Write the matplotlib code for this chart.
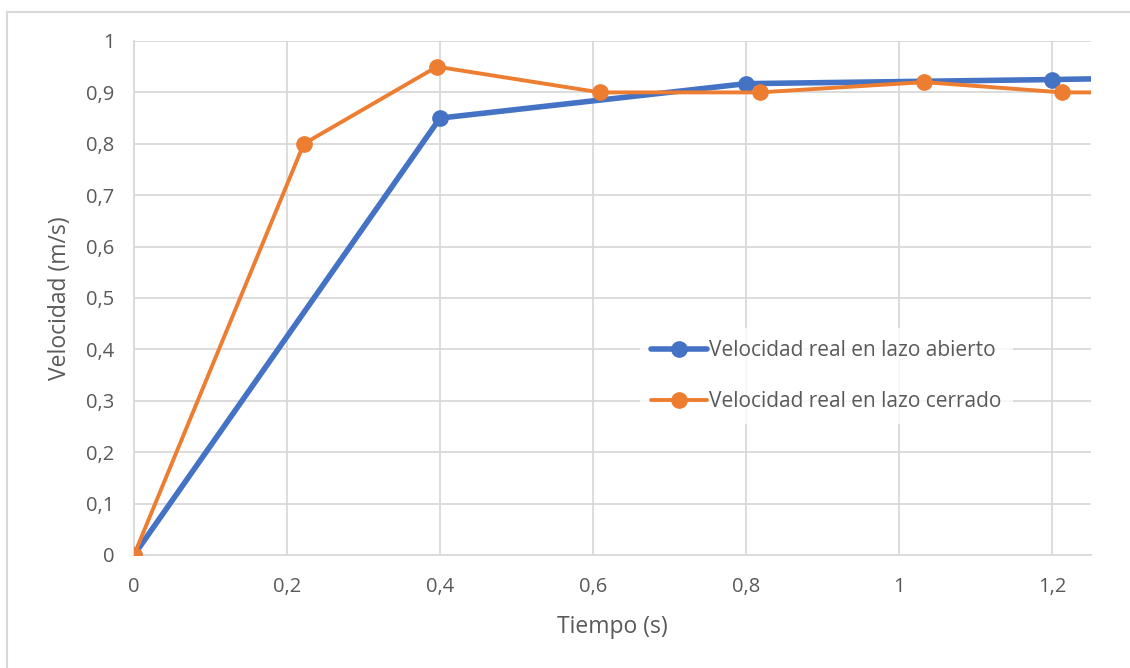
import matplotlib
matplotlib.use("Agg")
import matplotlib.pyplot as plt
from matplotlib.lines import Line2D
from matplotlib.ticker import FuncFormatter

plt.rcParams['font.family'] = ['Open Sans', 'DejaVu Sans']

# Time (s) and measured speed (m/s) for each control mode
t_open = [0, 0.4, 0.8, 1.2, 1.6]
v_open = [0, 0.85, 0.917, 0.925, 0.935]

t_closed = [0, 0.222, 0.396, 0.609, 0.818, 1.033, 1.213, 1.43]
v_closed = [0, 0.80, 0.95, 0.90, 0.90, 0.92, 0.90, 0.90]

label_open = "Velocidad real en lazo abierto"
label_closed = "Velocidad real en lazo cerrado"
x_ticks = [0, 0.2, 0.4, 0.6, 0.8, 1.0, 1.2]
y_ticks = [0, 0.1, 0.2, 0.3, 0.4, 0.5, 0.6, 0.7, 0.8, 0.9, 1.0]

BLUE = "#4472C4"
ORANGE = "#ED7D31"
TEXT = "#595959"
GRID = "#D9D9D9"

W, H = 1130, 668
fig = plt.figure(figsize=(W / 100, H / 100), dpi=100)
ax_l, ax_r, ax_t, ax_b = 134, 1091, 41, 555
ax = fig.add_axes([ax_l / W, (H - ax_b) / H, (ax_r - ax_l) / W, (ax_b - ax_t) / H])
aw, ah = ax_r - ax_l, ax_b - ax_t

ax.plot(t_open, v_open, color=BLUE, lw=4, marker='o', ms=11,
        solid_capstyle='round', zorder=3, label=label_open)
ax.plot(t_closed, v_closed, color=ORANGE, lw=2.8, marker='o', ms=11,
        solid_capstyle='round', zorder=4, label=label_closed)

ax.set_xlim(0, 1.251)
ax.set_ylim(0, 1.0)
ax.set_xticks(x_ticks)
ax.set_yticks(y_ticks)


def comma(v, _):
    s = f"{v:.1f}".rstrip('0').rstrip('.')
    return s.replace('.', ',')


ax.xaxis.set_major_formatter(FuncFormatter(comma))
ax.yaxis.set_major_formatter(FuncFormatter(comma))
ax.tick_params(axis='both', length=0, labelsize=14.5, colors=TEXT)
ax.tick_params(axis='x', pad=16)
ax.tick_params(axis='y', pad=14)

ax.grid(True, color=GRID, lw=1.3)
ax.set_axisbelow(True)
for side in ('top', 'right'):
    ax.spines[side].set_visible(False)
for side in ('left', 'bottom'):
    ax.spines[side].set_color(GRID)
    ax.spines[side].set_linewidth(1.3)

ax.set_xlabel("Tiempo (s)", fontsize=16.5, color=TEXT, va='center')
ax.set_ylabel("Velocidad (m/s)", fontsize=16.5, color=TEXT, va='center')
ax.xaxis.set_label_coords((612 - ax_l) / aw, (ax_b - 627) / ah)
ax.yaxis.set_label_coords((60 - ax_l) / aw, (ax_b - 298) / ah)

handles = [
    Line2D([], [], color=BLUE, lw=4, marker='o', ms=11, solid_capstyle='round'),
    Line2D([], [], color=ORANGE, lw=2.8, marker='o', ms=11, solid_capstyle='round'),
]
leg = ax.legend(handles, [label_open, label_closed], loc='center left',
                bbox_to_anchor=((640 - ax_l) / aw, (ax_b - 376) / ah),
                frameon=True, fontsize=15, labelcolor=TEXT, handlelength=2.65,
                handletextpad=0.1, labelspacing=1.45, borderpad=0.55,
                borderaxespad=0)
leg.get_frame().set_facecolor('white')
leg.get_frame().set_edgecolor('none')
leg.get_frame().set_boxstyle('square', pad=0)

# Thin frame around the chart area
fig.add_artist(Line2D([7 / W, 7 / W], [0, (H - 12) / H], color=GRID, lw=1.5,
                      transform=fig.transFigure))
fig.add_artist(Line2D([7 / W, 1], [(H - 12) / H, (H - 12) / H], color=GRID, lw=1.5,
                      transform=fig.transFigure))

fig.savefig("out.png", dpi=100, facecolor='white')
